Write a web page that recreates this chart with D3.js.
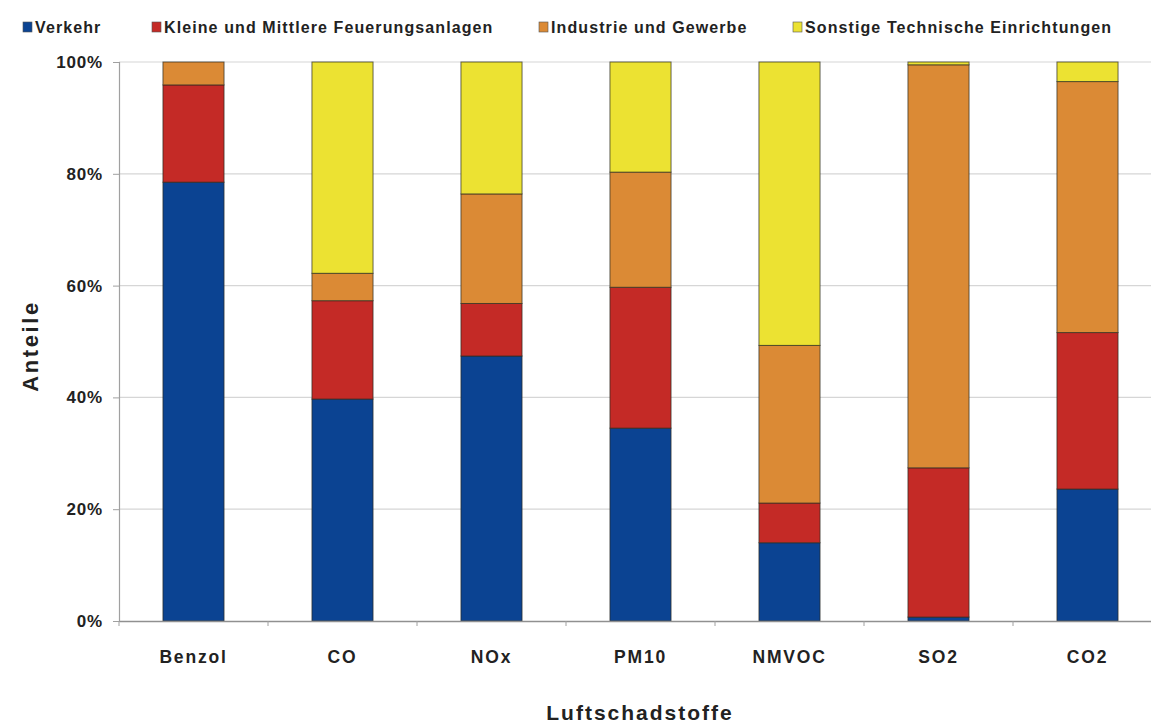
<!DOCTYPE html>
<html>
<head>
<meta charset="utf-8">
<script src="https://cdn.jsdelivr.net/npm/d3@7"></script>
<style>
  html, body { margin: 0; padding: 0; background: #ffffff; }
  svg { display: block; font-family: "Liberation Sans", Arial, sans-serif; }
</style>
</head>
<body>
<svg id="chart" width="1151" height="724"></svg>
<script>
// Anteile der Quellgruppen an den Emissionen je Luftschadstoff (in %)
const categories = ["Benzol", "CO", "NOx", "PM10", "NMVOC", "SO2", "CO2"];
const seriesNames = [
  "Verkehr",
  "Kleine und Mittlere Feuerungsanlagen",
  "Industrie und Gewerbe",
  "Sonstige Technische Einrichtungen"
];
const verkehr   = [78.5, 39.7, 47.4, 34.5, 14.0,  0.7, 23.6];
const kleine    = [17.4, 17.6,  9.4, 25.2,  7.1, 26.7, 28.0];
const industrie = [ 4.1,  4.9, 19.6, 20.6, 28.2, 72.1, 44.9];
const sonstige  = [ 0.0, 37.8, 23.6, 19.7, 50.7,  0.5,  3.5];
const yTicks = [0, 20, 40, 60, 80, 100];
const colors = ["#0b4392", "#c42a26", "#db8a35", "#ece232"];

const seriesValues = [verkehr, kleine, industrie, sonstige];
const rows = categories.map((c, i) => {
  const r = { cat: c };
  seriesNames.forEach((s, j) => { r[s] = seriesValues[j][i]; });
  return r;
});

const svg = d3.select("#chart");
const margin = { left: 119, top: 62, bottom: 621 };
const plotRight = 119 + 149 * 7;

const x = d3.scaleBand()
  .domain(categories)
  .range([margin.left, plotRight])
  .paddingInner(0.59)
  .paddingOuter(0.295);

const y = d3.scaleLinear().domain([0, 100]).range([margin.bottom, margin.top]);

// horizontal grid lines
svg.append("g")
  .selectAll("line")
  .data(yTicks.filter(t => t > 0))
  .join("line")
  .attr("x1", margin.left).attr("x2", plotRight)
  .attr("y1", d => y(d)).attr("y2", d => y(d))
  .attr("stroke", "#d6d6d6").attr("stroke-width", 1.2);

// stacked bars
const stack = d3.stack().keys(seriesNames);
const layers = stack(rows);

svg.append("g")
  .selectAll("g")
  .data(layers)
  .join("g")
  .attr("fill", (d, i) => colors[i])
  .selectAll("rect")
  .data(d => d.filter(p => p[1] - p[0] > 0))
  .join("rect")
  .attr("x", d => x(d.data.cat))
  .attr("width", x.bandwidth())
  .attr("y", d => y(d[1]))
  .attr("height", d => y(d[0]) - y(d[1]))
  .attr("stroke", "#2a2a20")
  .attr("stroke-opacity", 0.7)
  .attr("stroke-width", 1);

// y axis
const yAxis = d3.axisLeft(y)
  .tickValues(yTicks)
  .tickFormat(d => d + "%")
  .tickSize(6)
  .tickPadding(10);

const gy = svg.append("g")
  .attr("transform", `translate(${margin.left},0)`)
  .call(yAxis);
gy.select(".domain").attr("stroke", "#a0a0a0").attr("stroke-width", 1.2);
gy.selectAll(".tick line").attr("stroke", "#a0a0a0");
gy.selectAll(".tick text")
  .attr("font-size", 17)
  .attr("font-weight", "bold")
  .attr("fill", "#222")
  .attr("letter-spacing", "0.8px");

// x axis
const xAxis = d3.axisBottom(x).tickSize(0).tickPadding(30);
const gx = svg.append("g")
  .attr("transform", `translate(0,${margin.bottom})`)
  .call(xAxis);
gx.select(".domain").attr("stroke", "#909090").attr("stroke-width", 1.5);
gx.selectAll(".tick text")
  .attr("font-size", 17.5)
  .attr("font-weight", "bold")
  .attr("fill", "#222")
  .attr("letter-spacing", "1.8px");

// small separators between categories
const bounds = d3.range(categories.length + 1).map(i => margin.left + i * x.step());
svg.append("g")
  .selectAll("line")
  .data(bounds)
  .join("line")
  .attr("x1", d => d).attr("x2", d => d)
  .attr("y1", margin.bottom).attr("y2", margin.bottom + 5)
  .attr("stroke", "#a0a0a0");

// axis titles
svg.append("text")
  .attr("x", 640).attr("y", 720)
  .attr("text-anchor", "middle")
  .attr("font-size", 21)
  .attr("font-weight", "bold")
  .attr("letter-spacing", "2px")
  .attr("fill", "#222")
  .text("Luftschadstoffe");

svg.append("text")
  .attr("transform", "translate(38,346) rotate(-90)")
  .attr("text-anchor", "middle")
  .attr("font-size", 22)
  .attr("font-weight", "bold")
  .attr("letter-spacing", "2.6px")
  .attr("fill", "#222")
  .text("Anteile");

// legend
const legendX = [23, 152, 539, 793];
const legend = svg.append("g")
  .selectAll("g")
  .data(seriesNames)
  .join("g")
  .attr("transform", (d, i) => `translate(${legendX[i]},22)`);
legend.append("rect")
  .attr("width", 9).attr("height", 10)
  .attr("fill", (d, i) => colors[i])
  .attr("stroke", "#555").attr("stroke-width", 0.6);
legend.append("text")
  .attr("x", 12).attr("y", 10.5)
  .attr("font-size", 16)
  .attr("font-weight", "bold")
  .attr("letter-spacing", "1.1px")
  .attr("fill", "#222")
  .text(d => d);
</script>
</body>
</html>
